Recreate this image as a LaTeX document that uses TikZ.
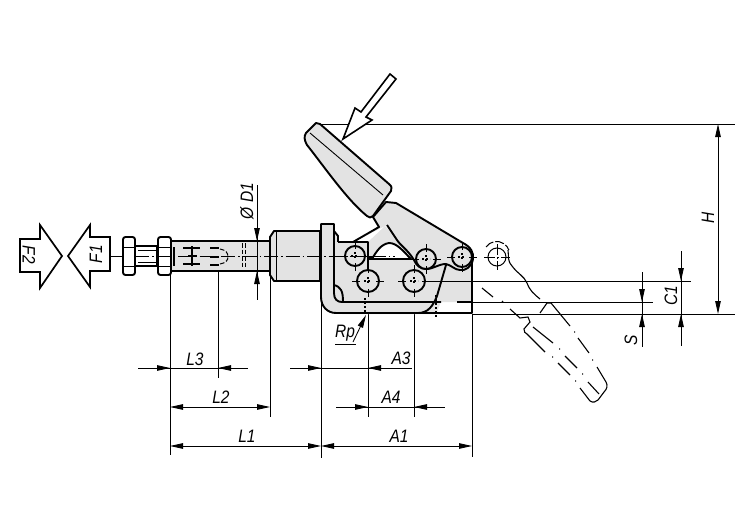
\documentclass[tikz,border=0pt]{standalone}
\usepackage{fontspec}
\setmainfont[FakeStretch=0.86]{Liberation Sans}
\usetikzlibrary{arrows.meta}
\definecolor{partgrey}{HTML}{E3E3E3}
\tikzset{
  part/.style={draw=black,line width=1.9pt,fill=partgrey,line join=round},
  edge/.style={draw=black,line width=1.9pt,line join=round},
  thin line/.style={draw=black,line width=0.9pt},
  axis/.style={draw=black,line width=0.8pt,dash pattern=on 14pt off 3pt on 1.5pt off 3pt},
  hidden/.style={draw=black,line width=1pt,dash pattern=on 4.5pt off 2pt},
  dim/.style={draw=black,line width=0.85pt},
  tip/.style={-{Triangle[length=13pt,width=5.5pt]}},
  tail tip/.style={{Triangle[length=13pt,width=5.5pt]}-},
  both tips/.style={{Triangle[length=13pt,width=5.5pt]}-{Triangle[length=13pt,width=5.5pt]}},
  label/.style={inner sep=0pt,font=\fontsize{18}{18}\selectfont\itshape},
  force/.style={draw=black,line width=1.7pt,fill=white,line join=miter}
}
\newcommand{\pinmark}[3]{%
  \draw[edge,fill=partgrey] (#1,#2) circle (#3);
  \draw[dim] ({#1-#3-5},#2) -- ({#1-#3+3},#2) ({#1+#3-3},#2) -- ({#1+#3+5},#2)
             (#1,{#2-#3-5}) -- (#1,{#2-#3+3}) (#1,{#2+#3-3}) -- (#1,{#2+#3+5});
  \draw[draw=black,line width=1.1pt,dash pattern=on 1.5pt off 2.5pt]
             ({#1-4},#2) -- ({#1+4},#2) (#1,{#2-4}) -- (#1,{#2+4});
}
\begin{document}
\begin{tikzpicture}[x=1pt,y=-1pt]
\useasboundingbox (0,0) rectangle (750,530);
% extension lines
\draw[thin line] (170,271) -- (170,455) (218,265) -- (218,378) (270,271) -- (270,417)
  (321,297) -- (321,458) (368,314) -- (368,417) (414,290) -- (414,417) (472,314) -- (472,457);
% horizontal reference lines
\draw[thin line] (316,124) -- (735,124) (472,281) -- (691,281) (472,302) -- (653,302) (472,314) -- (735,314);
% force arrows
\draw[force] (20,239) -- (40,239) -- (40,225) -- (62,256) -- (40,288) -- (40,272) -- (20,272) -- cycle;
\draw[force] (68,256) -- (90,225) -- (90,237) -- (110,237) -- (110,271) -- (90,271) -- (90,287) -- cycle;
\node[label,rotate=-90] (f2) at (29,255) {F2};
\node[label,rotate=90] (f1) at (96,254) {F1};
% rod and nuts
\draw[part,fill=white] (135,246) rectangle (157,266);
\draw[thin line] (138,250) -- (157,250) (138,262) -- (157,262);
\draw[part,fill=partgrey] (171,241) -- (270,241) -- (270,271) -- (171,271) -- cycle;
\draw[part,fill=white,rounded corners=2.5pt] (123,237) rectangle (135,275);
\draw[part,fill=white,rounded corners=2.5pt] (158,237) rectangle (171,275);
\draw[thin line] (123,247) -- (135,247) (123,266) -- (135,266) (158,247) -- (171,247) (158,266) -- (171,266);
\draw[line width=1.6pt] (174,247) -- (174,266);
% hidden parts in the rod
\draw[hidden] (242,243) -- (242,269) (245,243) -- (245,269);
\draw[draw=black,line width=1.2pt] (183,248) -- (200,248) (183,264) -- (200,264) (192,246) -- (192,266) (188,256) -- (197,256);
\draw[draw=black,line width=1.2pt] (210,248) -- (219,248) (210,265) -- (219,265) (210,257) -- (219,257);
\draw[hidden] (220,249) .. controls (226,250) and (228,253) .. (228,257) .. controls (228,260) and (226,263) .. (220,264);
% collar
\draw[part] (270,237) -- (274,231) -- (320,231) -- (320,281) -- (274,281) -- (270,275) -- cycle;
\draw[thin line] (276,231) -- (276,281);
% collar right shoulder
\draw[part] (334,231) -- (338,236) -- (338,278) -- (334,282) -- cycle;
% clamp body
\fill[partgrey] (334,242) -- (368,242) -- (385,226) -- (416,258) -- (472,258) -- (472,302) -- (441,302) -- (436,314) -- (342,314) -- (334,300) -- cycle;
% L-shaped plate
\fill[partgrey] (321,224) -- (334,224) -- (334,293) .. controls (334,299) and (337,302) .. (342,302) -- (436,302)
  -- (426,313) -- (336,313) .. controls (327,313) and (321,306) .. (321,297) -- cycle;
\draw[edge] (418,313) -- (336,313) .. controls (327,313) and (321,306) .. (321,297) -- (321,224) -- (334,224) -- (334,293)
  .. controls (334,299) and (337,302) .. (342,302) -- (441,302);
\draw[edge] (457,302) -- (472,302);
\draw[edge] (343,302) .. controls (343,291) and (341,287) .. (334,285);
% bottom edge and right edge
\draw[edge] (418,313) -- (472,313) -- (472,262);
% link and body edge
\draw[edge] (418,313) .. controls (428,313) and (433,306) .. (437,296) -- (446,265);
\draw[part,fill=white] (372,259) .. controls (376,252) and (381,244) .. (389,243) .. controls (397,243) and (403,251) .. (411,259) -- cycle;
% lever
\draw[part] (353,242) -- (379,227) -- (373,217) -- (386,202) -- (396,203) -- (463,243)
  .. controls (471,247) and (474,253) .. (473,259) .. controls (472,267) and (465,271) .. (460,270)
  .. controls (455,270) and (451,265) .. (446,264) .. controls (438,264) and (434,269) .. (426,269)
  .. controls (420,269) and (416,265) .. (414,260) .. controls (408,250) and (400,245) .. (397,240) -- (387,225);
% handle grip
\draw[part] (316,123) -- (320,124) -- (389,184) .. controls (392,186) and (392,189) .. (391,191) -- (373,216)
  .. controls (371,218) and (369,218) .. (367,216) .. controls (347,200) and (323,165) .. (307,145)
  .. controls (304,140) and (304,136) .. (306,133) -- cycle;
\draw[thin line] (310,133) -- (383,195);
% square around pin and thick lines
\draw[part,line width=1.7pt] (338,242) -- (368,242) -- (368,270);
\draw[line width=3.4pt] (368,258) -- (373,258);
% pins
\pinmark{355}{256}{10}
\pinmark{368}{281}{11}
\pinmark{414}{281}{11}
\pinmark{426}{259}{10}
\pinmark{462}{257}{10}
% main axis
\draw[thin line] (111,256) -- (123,256);
\draw[axis] (135,256) -- (395,256);
% lines through the body
\draw[thin line] (426,281) -- (472,281);
\draw[draw=black,line width=1.1pt,dash pattern=on 2pt off 2pt] (365,298) -- (365,313) (436,295) -- (436,318);
% phantom handle
\draw[draw=black,line width=1pt] (497,257) circle (9);
\draw[draw=black,line width=0.9pt] (484,257) -- (493,257) (501,257) -- (510,257) (497,244) -- (497,253) (497,261) -- (497,270);
\draw[draw=black,line width=1pt,dash pattern=on 1.5pt off 2.5pt] (493,257) -- (501,257) (497,253) -- (497,261);
\draw[draw=black,line width=1pt,dash pattern=on 9pt off 2pt] (486,247) arc (215:340:13);
\draw[draw=black,line width=1.1pt] (508,250) .. controls (509,257) and (507,260) .. (512,266) .. controls (518,274) and (524,276) .. (527,283) .. controls (530,291) and (534,294) .. (540,299);
\draw[draw=black,line width=1.1pt] (482,288) -- (493,297);
\draw[draw=black,line width=1.1pt] (510,309) -- (520,318) -- (528,317) -- (530,322) -- (524,329) .. controls (524,332) and (525,333) .. (527,334) -- (545,352);
\draw[draw=black,line width=1.1pt] (540,313) -- (547,303) -- (551,303) -- (570,326);
\draw[draw=black,line width=1.1pt] (574,332) -- (575,332) (578,338) -- (589,353) (592,360) -- (593,360) (597,367) -- (606,382)
  .. controls (608,386) and (607,389) .. (604,392) -- (598,400) .. controls (596,402) and (593,403) .. (590,401) -- (580,388);
\draw[draw=black,line width=1.1pt] (558,363) -- (570,375) (575,381) -- (576,381) (533,327) -- (553,343) (559,349) -- (560,349)
  (565,356) -- (577,368) (582,374) -- (583,374) (588,382) -- (599,394) (552,357) -- (553,357) (502,301) -- (503,302);
% press arrow
\draw[force,line width=1.6pt] (390,74) -- (396,79) -- (366,117) -- (372,120) -- (343,139) -- (355,108) -- (361,112) -- cycle;
% dimensions: bottom (lines run on through both arrowheads)
\draw[dim] (138,368) -- (248,368) (290,368) -- (412,368) (336,407) -- (445,407);
\draw[dim,tip] (150,368) -- (170,368);
\draw[dim,tip] (238,368) -- (218,368);
\draw[dim,both tips] (170,407) -- (270,407);
\draw[dim,both tips] (170,446) -- (321,446);
\draw[dim,both tips] (321,446) -- (472,446);
\draw[dim,tip] (300,368) -- (321,368);
\draw[dim,tip] (388,368) -- (368,368);
\draw[dim,tip] (348,407) -- (368,407);
\draw[dim,tip] (434,407) -- (414,407);
\node[label] (l3) at (195,359) {L3};
\node[label] (l2) at (221,397) {L2};
\node[label] (l1) at (247,436) {L1};
\node[label] (a3) at (401,358) {A3};
\node[label] (a4) at (391,397) {A4};
\node[label] (a1) at (399,436) {A1};
% diameter
\draw[dim] (257,185) -- (257,300);
\draw[dim,tip] (257,220) -- (257,241);
\draw[dim,tip] (257,292) -- (257,271);
\node[label,rotate=90] (d1) at (247,201) {Ø D1};
% right dims
\draw[dim,both tips] (718,124) -- (718,314);
\node[label,rotate=90] (h) at (708,218) {H};
\draw[dim] (681,251) -- (681,346);
\draw[dim,tip] (681,262) -- (681,281);
\draw[dim,tip] (681,333) -- (681,314);
\node[label,rotate=90] (c1) at (671,296) {C1};
\draw[dim] (642,272) -- (642,347);
\draw[dim,tip] (642,282) -- (642,302);
\draw[dim,tip] (642,333) -- (642,314);
\node[label,rotate=90] (s) at (631,340) {S};
% Rp
\node[label] (rp) at (345,333) {Rp};
\draw[dim] (335,344) -- (356,344);
\draw[dim,tail tip] (366,315) -- (353,342);
\end{tikzpicture}
\end{document}
